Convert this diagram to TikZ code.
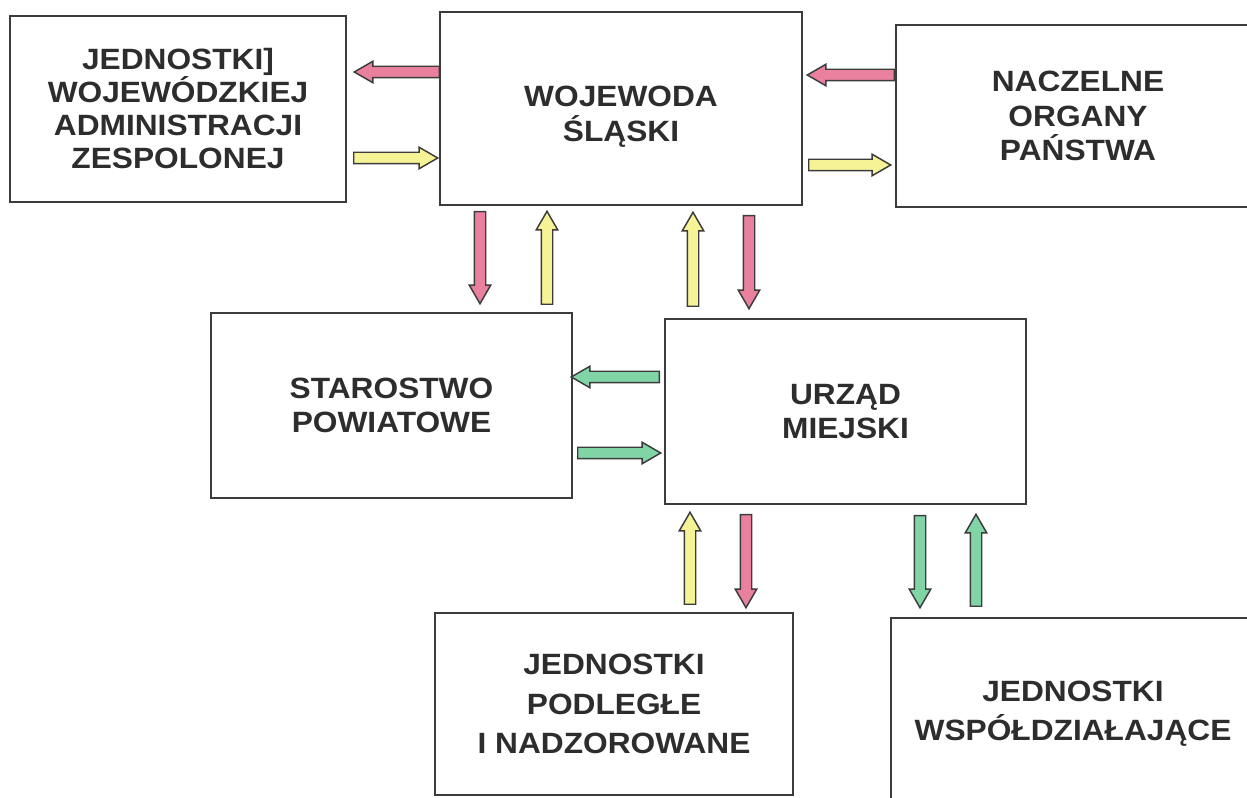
\documentclass[tikz,border=0pt]{standalone}
\usepackage{fontspec}
\setmainfont{Liberation Sans}[FakeStretch=1.08]
\usetikzlibrary{shapes.arrows}

\definecolor{boxline}{RGB}{60,60,60}
\definecolor{txtgray}{RGB}{45,45,45}
\definecolor{pinkarr}{RGB}{232,128,158}
\definecolor{yellowarr}{RGB}{246,243,150}
\definecolor{greenarr}{RGB}{128,212,166}

\tikzset{every picture/.style={line width=0.75pt}}
\tikzset{
  box/.style={draw=boxline, line width=1.3pt, rectangle, align=center, text=txtgray,
    font=\bfseries\fontsize{22}{26}\selectfont, inner sep=0pt},
  boxtxt/.style={align=center, text=txtgray, font=\bfseries\fontsize{22}{26}\selectfont, inner sep=0pt},
  arr/.style={draw=boxline, line width=1.1pt, single arrow, minimum width=15pt,
    single arrow head extend=3.75pt, single arrow tip angle=60,
    inner xsep=0pt, inner ysep=3.75pt, anchor=tail},
  pinkblk/.style={arr, fill=pinkarr},
  yellowblk/.style={arr, fill=yellowarr},
  greenblk/.style={arr, fill=greenarr}
}

\begin{document}
\begin{tikzpicture}[x=0.75pt,y=0.75pt,yscale=-1,xscale=1]
\useasboundingbox (0,0) rectangle (1247,798);

% Boxes
\node [box, minimum width=252pt, minimum height=139.5pt,
  font=\bfseries\fontsize{22}{24.75}\selectfont] (jednostki) at (178,109)
  {JEDNOSTKI]\\WOJEWÓDZKIEJ\\ADMINISTRACJI\\ZESPOLONEJ};
\node [box, minimum width=271.5pt, minimum height=144.75pt] (wojewoda) at (621,108.5) {};
\node [boxtxt] (wojewodatxt) at (621,117) {WOJEWODA\\ŚLĄSKI};
\node [box, minimum width=273pt, minimum height=136.5pt] (naczelne) at (1078,116)
  {NACZELNE\\ORGANY\\PAŃSTWA};
\node [box, minimum width=270.75pt, minimum height=138.75pt] (starostwo) at (391.5,405.5)
  {STAROSTWO\\POWIATOWE};
\node [box, minimum width=270.75pt, minimum height=138.75pt] (urzad) at (845.5,411.5)
  {URZĄD\\MIEJSKI};
\node [box, minimum width=268.5pt, minimum height=136.5pt,
  font=\bfseries\fontsize{22}{29.5}\selectfont] (podlegle) at (614,704)
  {JEDNOSTKI\\PODLEGŁE\\I NADZOROWANE};
\node [box, minimum width=273pt, minimum height=144pt,
  font=\bfseries\fontsize{22}{29.5}\selectfont] (wspol) at (1073,714)
  {JEDNOSTKI\\WSPÓŁDZIAŁAJĄCE};

% Arrows between wojewoda and side boxes
\node [pinkblk, minimum height=63.75pt, rotate=180] (aw1) at (440,72) {};
\node [yellowblk, minimum height=63pt] (aw2) at (353,158) {};
\node [pinkblk, minimum height=65.25pt, rotate=180] (aw3) at (895,75) {};
\node [yellowblk, minimum height=61.5pt] (aw4) at (808,165) {};

% Arrows to second row
\node [pinkblk, minimum height=69pt, rotate=-90] (av1) at (480,211) {};
\node [yellowblk, minimum height=69.75pt, rotate=90] (av2) at (547,305) {};
\node [yellowblk, minimum height=70.5pt, rotate=90] (av3) at (693,307) {};
\node [pinkblk, minimum height=69.75pt, rotate=-90] (av4) at (749,215) {};

% Starostwo - urzad
\node [greenblk, minimum height=66pt, rotate=180] (as1) at (660,377) {};
\node [greenblk, minimum height=62.25pt] (as2) at (577,453) {};

% Urzad - bottom row
\node [yellowblk, minimum height=69pt, rotate=90] (ab1) at (690,605) {};
\node [pinkblk, minimum height=69.75pt, rotate=-90] (ab2) at (746,514) {};
\node [greenblk, minimum height=69pt, rotate=-90] (ab3) at (920,515) {};
\node [greenblk, minimum height=69pt, rotate=90] (ab4) at (976,607) {};

\end{tikzpicture}
\end{document}
